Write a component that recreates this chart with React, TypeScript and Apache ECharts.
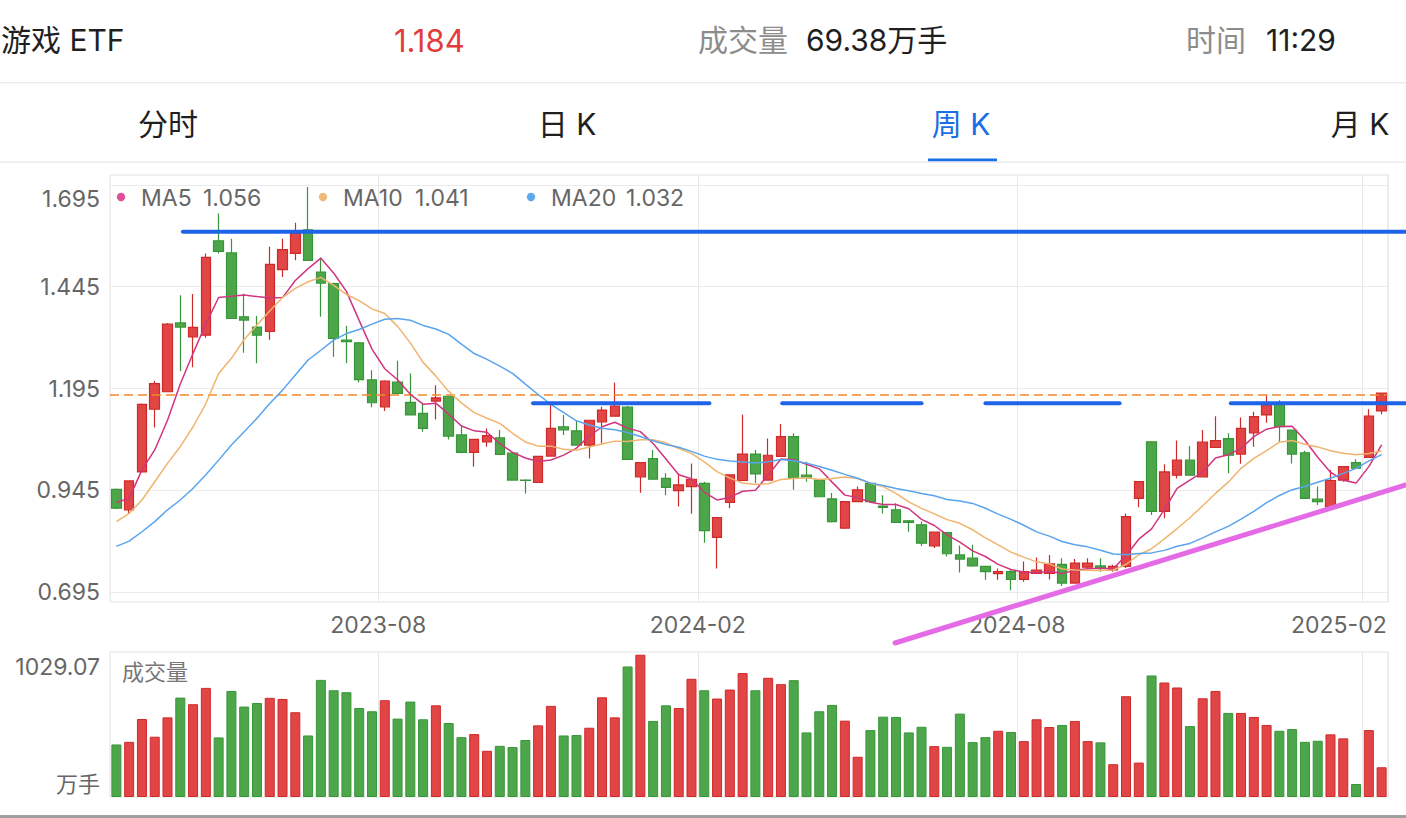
import React, { useEffect, useRef } from "react";
import * as echarts from "echarts";

// ---------------- data ----------------
const DATES = [
  "2023-03-10", "2023-03-17", "2023-03-24", "2023-03-31", "2023-04-07", "2023-04-14", "2023-04-21", "2023-04-28", "2023-05-05", "2023-05-12",
  "2023-05-19", "2023-05-26", "2023-06-02", "2023-06-09", "2023-06-16", "2023-06-21", "2023-06-30", "2023-07-07", "2023-07-14", "2023-07-21",
  "2023-07-28", "2023-08-04", "2023-08-11", "2023-08-18", "2023-08-25", "2023-09-01", "2023-09-08", "2023-09-15", "2023-09-22", "2023-09-28",
  "2023-10-13", "2023-10-20", "2023-10-27", "2023-11-03", "2023-11-10", "2023-11-17", "2023-11-24", "2023-12-01", "2023-12-08", "2023-12-15",
  "2023-12-22", "2023-12-29", "2024-01-05", "2024-01-12", "2024-01-19", "2024-01-26", "2024-02-02", "2024-02-08", "2024-02-23", "2024-03-01",
  "2024-03-08", "2024-03-15", "2024-03-22", "2024-03-29", "2024-04-03", "2024-04-12", "2024-04-19", "2024-04-26", "2024-04-30", "2024-05-10",
  "2024-05-17", "2024-05-24", "2024-05-31", "2024-06-07", "2024-06-14", "2024-06-21", "2024-06-28", "2024-07-05", "2024-07-12", "2024-07-19",
  "2024-07-26", "2024-08-02", "2024-08-09", "2024-08-16", "2024-08-23", "2024-08-30", "2024-09-06", "2024-09-13", "2024-09-20", "2024-09-27",
  "2024-09-30", "2024-10-11", "2024-10-18", "2024-10-25", "2024-11-01", "2024-11-08", "2024-11-15", "2024-11-22", "2024-11-29", "2024-12-06",
  "2024-12-13", "2024-12-20", "2024-12-27", "2025-01-03", "2025-01-10", "2025-01-17", "2025-01-24", "2025-01-27", "2025-02-07", "2025-02-14",
];

const OPEN = [
  0.947, 0.897, 0.990, 1.144, 1.187, 1.356, 1.322, 1.326, 1.558, 1.528,
  1.371, 1.346, 1.335, 1.487, 1.527, 1.585, 1.481, 1.453, 1.314, 1.307,
  1.216, 1.150, 1.211, 1.161, 1.134, 1.164, 1.176, 1.081, 1.038, 1.064,
  1.074, 1.036, 0.970, 0.964, 1.029, 1.101, 1.091, 1.056, 1.113, 1.127,
  1.149, 0.978, 1.023, 0.974, 0.944, 0.954, 0.962, 0.829, 0.915, 0.969,
  1.034, 0.970, 1.028, 1.077, 0.982, 0.970, 0.924, 0.852, 0.917, 0.962,
  0.906, 0.897, 0.870, 0.860, 0.808, 0.841, 0.786, 0.778, 0.758, 0.740,
  0.745, 0.726, 0.741, 0.741, 0.763, 0.717, 0.756, 0.759, 0.749, 0.758,
  0.925, 1.064, 0.893, 0.982, 1.019, 0.978, 1.050, 1.072, 1.034, 1.086,
  1.130, 1.158, 1.093, 1.037, 0.923, 0.905, 0.970, 1.013, 1.026, 1.140,
];
const CLOSE = [
  0.901, 0.968, 1.156, 1.207, 1.353, 1.346, 1.345, 1.517, 1.532, 1.367,
  1.363, 1.326, 1.500, 1.536, 1.576, 1.510, 1.454, 1.318, 1.310, 1.217,
  1.160, 1.213, 1.183, 1.130, 1.097, 1.172, 1.078, 1.038, 1.070, 1.079,
  1.033, 0.970, 0.969, 1.028, 1.097, 1.093, 1.056, 1.117, 1.142, 1.152,
  1.021, 1.013, 0.972, 0.952, 0.958, 0.972, 0.846, 0.878, 0.983, 1.034,
  0.985, 1.031, 1.077, 0.974, 0.977, 0.929, 0.868, 0.917, 0.946, 0.917,
  0.903, 0.866, 0.866, 0.815, 0.842, 0.789, 0.776, 0.759, 0.745, 0.745,
  0.726, 0.745, 0.749, 0.764, 0.717, 0.766, 0.766, 0.754, 0.758, 0.880,
  0.966, 0.893, 0.990, 1.019, 0.982, 1.063, 1.067, 1.031, 1.097, 1.126,
  1.154, 1.101, 1.034, 0.925, 0.917, 0.969, 1.003, 0.999, 1.127, 1.184,
];
const LOW = [
  0.899, 0.888, 0.989, 1.099, 1.187, 1.238, 1.247, 1.320, 1.527, 1.366,
  1.283, 1.257, 1.315, 1.469, 1.510, 1.508, 1.371, 1.273, 1.257, 1.210,
  1.149, 1.140, 1.181, 1.129, 1.089, 1.119, 1.070, 1.036, 1.003, 1.052,
  1.031, 0.969, 0.937, 0.963, 1.028, 1.081, 1.055, 1.023, 1.060, 1.126,
  1.020, 0.939, 0.971, 0.933, 0.905, 0.887, 0.816, 0.753, 0.901, 0.968,
  0.962, 0.969, 1.027, 0.946, 0.966, 0.928, 0.866, 0.850, 0.916, 0.915,
  0.888, 0.865, 0.843, 0.808, 0.803, 0.782, 0.743, 0.757, 0.725, 0.725,
  0.699, 0.720, 0.740, 0.726, 0.710, 0.715, 0.754, 0.745, 0.745, 0.754,
  0.903, 0.884, 0.876, 0.974, 0.981, 0.977, 1.049, 0.987, 1.010, 1.052,
  1.111, 1.064, 1.011, 0.924, 0.909, 0.901, 0.966, 0.998, 1.025, 1.132,
];
const HIGH = [
  0.949, 0.969, 1.158, 1.214, 1.356, 1.424, 1.427, 1.527, 1.625, 1.563,
  1.428, 1.373, 1.543, 1.563, 1.602, 1.690, 1.517, 1.455, 1.349, 1.309,
  1.240, 1.215, 1.263, 1.232, 1.158, 1.203, 1.177, 1.105, 1.071, 1.097,
  1.093, 1.037, 0.972, 1.029, 1.158, 1.130, 1.117, 1.118, 1.150, 1.210,
  1.152, 1.014, 1.044, 0.987, 0.987, 1.011, 0.966, 0.879, 0.984, 1.131,
  1.044, 1.072, 1.108, 1.085, 1.015, 0.971, 0.938, 0.918, 0.954, 0.963,
  0.933, 0.913, 0.872, 0.868, 0.843, 0.842, 0.809, 0.811, 0.759, 0.753,
  0.749, 0.770, 0.780, 0.786, 0.778, 0.776, 0.778, 0.778, 0.762, 0.888,
  0.967, 1.065, 1.009, 1.067, 1.054, 1.093, 1.127, 1.085, 1.124, 1.138,
  1.181, 1.166, 1.094, 1.042, 0.954, 0.995, 1.004, 1.021, 1.144, 1.185,
];

// weekly volume, 万手
const VOLUME = [
  380, 399, 564, 436, 576, 719, 671, 789, 431, 767,
  654, 680, 717, 709, 613, 445, 847, 772, 758, 644,
  620, 700, 567, 690, 562, 663, 535, 433, 455, 334,
  370, 361, 412, 518, 659, 445, 448, 501, 721, 576,
  944, 1029.07, 550, 663, 644, 855, 772, 712, 777, 896,
  772, 862, 816, 845, 467, 620, 666, 552, 291, 484,
  581, 579, 467, 508, 368, 363, 603, 397, 433, 479,
  470, 404, 562, 506, 521, 550, 404, 395, 237, 729,
  249, 879, 828, 792, 513, 714, 767, 608, 608, 579,
  521, 479, 491, 399, 407, 453, 424, 94, 484, 215,
];

// moving-average values before enough in-view history exists
const MA5_LEAD = [0.915, 0.925, 0.995, 1.044];
const MA10_LEAD = [0.868, 0.888, 0.921, 0.966, 1.011, 1.052, 1.101, 1.158, 1.232];
const MA20_LEAD = [0.807, 0.82, 0.843, 0.868, 0.897, 0.921, 0.95, 0.983, 1.019, 1.056, 1.089, 1.122, 1.158, 1.191, 1.228, 1.265, 1.289, 1.314, 1.33];

const MONTH_LABELS = ["2023-08", "2024-02", "2024-08", "2025-02"];
const PRICE_MIN = 0.695;
const PRICE_MAX = 1.695;
const PRICE_STEP = 0.25;

// hand-drawn annotations (category index, price)
const RESIST_TOP = { from: 5.2, to: 100.9, price: 1.58 };
const RESIST_MID_PRICE = 1.159;
const RESIST_MID_SEGS = [[32.6, 46.4], [52.1, 63.0], [68.0, 78.5], [87.2, 100.9]];
const SUPPORT_LINE = [[60.93, 0.5697], [100.9, 0.958]];

// header texts
const TITLE = "游戏 ETF";
const LAST_PRICE = "1.184";
const DAY_VOL = "69.38万手";
const TIME_STR = "11:29";
const TABS = ["分时", "日 K", "周 K", "月 K"];

// ---------------- layout ----------------
const W = 1406;
const H = 818;
const FONT = "Inter, 'Noto Sans CJK SC', sans-serif";
const G_LEFT = 110;
const G_RIGHT = 18;
const PLOT_W = W - G_LEFT - G_RIGHT;
const FRAME_TOP = 175;
const FRAME_H = 427;
const P_TOP = 185;
const P_H = 407;
const V_TOP = 652;
const V_H = 145;

const RED = "#e24545";
const RED_B = "#cf2a2a";
const GREEN = "#4ea64a";
const GREEN_B = "#38963a";
const BLUE_ANN = "#1e63e8";
const MAG_ANN = "#e56be6";

function movingAverage(n: number, lead: number[]) {
  return CLOSE.map((_, i) => {
    if (i < n - 1) return lead[i];
    let s = 0;
    for (let k = i - n + 1; k <= i; k++) s += CLOSE[k];
    return +(s / n).toFixed(4);
  });
}

export default function App() {
  const ref = useRef<HTMLDivElement>(null);

  useEffect(() => {
    if (!ref.current) return;
    const chart = echarts.init(ref.current, undefined, { renderer: "svg" });

    const N = DATES.length;
    const band = PLOT_W / N;
    const px = (idx: number) => G_LEFT + (idx + 0.5) * band;
    const py = (p: number) => P_TOP + ((PRICE_MAX - p) / (PRICE_MAX - PRICE_MIN)) * P_H;

    const markIdx = new Set<number>();
    DATES.forEach((d, i) => {
      const m = d.slice(0, 7);
      if (i > 0 && DATES[i - 1].slice(0, 7) !== m && MONTH_LABELS.includes(m)) markIdx.add(i);
    });
    const lastMark = Math.max(...Array.from(markIdx));
    const isMark = (i: number) => markIdx.has(i);

    const ma5 = movingAverage(5, MA5_LEAD);
    const ma10 = movingAverage(10, MA10_LEAD);
    const ma20 = movingAverage(20, MA20_LEAD);
    const lastClose = CLOSE[N - 1];
    const volMax = Math.max(...VOLUME);
    const volAxisMax = +(volMax * 1.019).toFixed(2);

    const candleData = DATES.map((_, i) => [OPEN[i], CLOSE[i], LOW[i], HIGH[i]]);
    const volData = VOLUME.map((v, i) => {
      const up = CLOSE[i] >= OPEN[i];
      return { value: v, itemStyle: { color: up ? RED : GREEN, borderColor: up ? RED_B : GREEN_B, borderWidth: 1 } };
    });

    const text = (t: string, x: number, y: number, size: number, fill: string, align = "left") => ({
      type: "text",
      x,
      y,
      z: 50,
      style: { text: t, fill, font: `${size}px ${FONT}`, textAlign: align, textVerticalAlign: "middle" },
    });

    const legends = [
      { name: "MA5", val: ma5[N - 1], color: "#e0509a", dotX: 121, valX: 203 },
      { name: "MA10", val: ma10[N - 1], color: "#f0bb7a", dotX: 323, valX: 415 },
      { name: "MA20", val: ma20[N - 1], color: "#5ea8f0", dotX: 531, valX: 626 },
    ];

    const tabCenters = [168, 567, 961, 1360];

    const graphics: any[] = [
      // header
      text(TITLE, 1, 40, 30, "#1f1f1f"),
      text(LAST_PRICE, 394, 40, 31, "#e23b3b"),
      text("成交量", 698, 40, 30, "#8c8c8c"),
      text(DAY_VOL, 806, 40, 30, "#1f1f1f"),
      text("时间", 1186, 40, 30, "#8c8c8c"),
      text(TIME_STR, 1266, 40, 30, "#1f1f1f"),
      { type: "rect", z: 50, shape: { x: 0, y: 82, width: W, height: 1.5 }, style: { fill: "#ececec" } },
      ...TABS.map((t, i) => text(t, tabCenters[i], 124, 30, i === 2 ? "#1a6ee8" : "#1f1f1f", "center")),
      { type: "rect", z: 50, shape: { x: 928, y: 158.5, width: 69, height: 3 }, style: { fill: "#1a6ee8" } },
      { type: "rect", z: 50, shape: { x: 0, y: 161.5, width: W, height: 1.5 }, style: { fill: "#ececec" } },
      // legend
      ...legends.flatMap((l) => [
        { type: "circle", z: 50, shape: { cx: l.dotX, cy: 197, r: 4.2 }, style: { fill: l.color } },
        text(l.name, l.dotX + 20, 197.5, 23, "#666666"),
        text(l.val.toFixed(3), l.valX, 197.5, 23, "#666666"),
      ]),
      // volume caption
      text("成交量", 122, 672, 22, "#777777"),
      // annotations
      {
        type: "line", z: 60,
        shape: { x1: px(RESIST_TOP.from), y1: py(RESIST_TOP.price), x2: px(RESIST_TOP.to), y2: py(RESIST_TOP.price) },
        style: { stroke: BLUE_ANN, lineWidth: 4, lineCap: "round" },
      },
      ...RESIST_MID_SEGS.map(([a, b]) => ({
        type: "line", z: 60,
        shape: { x1: px(a), y1: py(RESIST_MID_PRICE), x2: px(b), y2: py(RESIST_MID_PRICE) },
        style: { stroke: BLUE_ANN, lineWidth: 4, lineCap: "round" },
      })),
      {
        type: "line", z: 60,
        shape: { x1: px(SUPPORT_LINE[0][0]), y1: py(SUPPORT_LINE[0][1]), x2: px(SUPPORT_LINE[1][0]), y2: py(SUPPORT_LINE[1][1]) },
        style: { stroke: MAG_ANN, lineWidth: 5, lineCap: "round" },
      },
      // bottom bar
      { type: "rect", z: 50, shape: { x: 0, y: 815, width: W, height: 3 }, style: { fill: "#a0a0a0" } },
    ];

    const labelRich = {
      c: { fontSize: 23, color: "#666666", fontFamily: FONT, padding: [0, 13, 0, 0] },
      r: { fontSize: 23, color: "#666666", fontFamily: FONT, padding: [0, 60, 0, 0] },
    };

    const option: any = {
      animation: false,
      backgroundColor: "#ffffff",
      textStyle: { fontFamily: FONT },
      grid: [
        { left: G_LEFT, width: PLOT_W, top: FRAME_TOP, height: FRAME_H, show: true, borderColor: "#e3e3e3", borderWidth: 1 },
        { left: G_LEFT, width: PLOT_W, top: P_TOP, height: P_H },
        { left: G_LEFT, width: PLOT_W, top: V_TOP, height: V_H, show: true, borderColor: "#e3e3e3", borderWidth: 1 },
      ],
      xAxis: [
        {
          type: "category", gridIndex: 0, data: DATES, boundaryGap: true,
          axisLine: { show: false }, axisTick: { show: false },
          axisLabel: {
            interval: (i: number) => isMark(i),
            margin: 11,
            fontSize: 23,
            color: "#666666",
            formatter: (v: string, i: number) => (i === lastMark ? `{r|${v.slice(0, 7)}}` : `{c|${v.slice(0, 7)}}`),
            rich: labelRich,
          },
          splitLine: { show: true, interval: (i: number) => isMark(i), lineStyle: { color: "#e8e8e8", width: 1 } },
        },
        { type: "category", gridIndex: 1, data: DATES, boundaryGap: true, show: false },
        {
          type: "category", gridIndex: 2, data: DATES, boundaryGap: true,
          axisLine: { show: false }, axisTick: { show: false }, axisLabel: { show: false },
          splitLine: { show: true, interval: (i: number) => isMark(i), lineStyle: { color: "#e8e8e8", width: 1 } },
        },
      ],
      yAxis: [
        { type: "value", gridIndex: 0, show: false, min: 0, max: 1 },
        {
          type: "value", gridIndex: 1, min: PRICE_MIN, max: PRICE_MAX, interval: PRICE_STEP,
          axisLine: { show: false }, axisTick: { show: false },
          splitLine: { show: true, lineStyle: { color: "#ebebeb", width: 1 } },
          axisLabel: {
            margin: 10,
            formatter: (v: number) => (v > PRICE_MAX - 1e-6 ? `{t|${v.toFixed(3)}}` : `{n|${v.toFixed(3)}}`),
            rich: {
              t: { fontSize: 23, color: "#666666", fontFamily: FONT, padding: [28, 0, 0, 0] },
              n: { fontSize: 23, color: "#666666", fontFamily: FONT },
            },
          },
        },
        {
          type: "value", gridIndex: 2, min: 0, max: volAxisMax, interval: volAxisMax,
          axisLine: { show: false }, axisTick: { show: false }, splitLine: { show: false },
          axisLabel: {
            margin: 10,
            formatter: (v: number) => (v === 0 ? "{b|万手}" : `{t|${volMax.toFixed(2)}}`),
            rich: {
              t: { fontSize: 23, color: "#666666", fontFamily: FONT, padding: [29, 0, 0, 0] },
              b: { fontSize: 22, color: "#666666", fontFamily: FONT, padding: [0, 0, 26, 0] },
            },
          },
        },
      ],
      series: [
        {
          name: "K",
          type: "candlestick",
          xAxisIndex: 1,
          yAxisIndex: 1,
          data: candleData,
          barWidth: 10,
          itemStyle: { color: RED, color0: GREEN, borderColor: RED_B, borderColor0: GREEN_B, borderWidth: 1.2 },
          markLine: {
            silent: true,
            symbol: ["none", "none"],
            label: { show: false },
            lineStyle: { type: [9, 5], color: "#f08a2a", width: 1.5 },
            data: [{ yAxis: lastClose }],
          },
        },
        { name: "MA5", type: "line", xAxisIndex: 1, yAxisIndex: 1, data: ma5, showSymbol: false, symbol: "none", lineStyle: { color: "#d0357f", width: 1.5 }, z: 5 },
        { name: "MA10", type: "line", xAxisIndex: 1, yAxisIndex: 1, data: ma10, showSymbol: false, symbol: "none", lineStyle: { color: "#f0b46e", width: 1.5 }, z: 5 },
        { name: "MA20", type: "line", xAxisIndex: 1, yAxisIndex: 1, data: ma20, showSymbol: false, symbol: "none", lineStyle: { color: "#58a4ee", width: 1.5 }, z: 5 },
        { name: "成交量", type: "bar", xAxisIndex: 2, yAxisIndex: 2, data: volData, barWidth: 10 },
      ],
      graphic: graphics,
    };

    chart.setOption(option);
    return () => chart.dispose();
  }, []);

  return (
    <div
      ref={ref}
      style={{ position: "fixed", left: 0, top: 0, width: W, height: H, background: "#ffffff" }}
    />
  );
}
